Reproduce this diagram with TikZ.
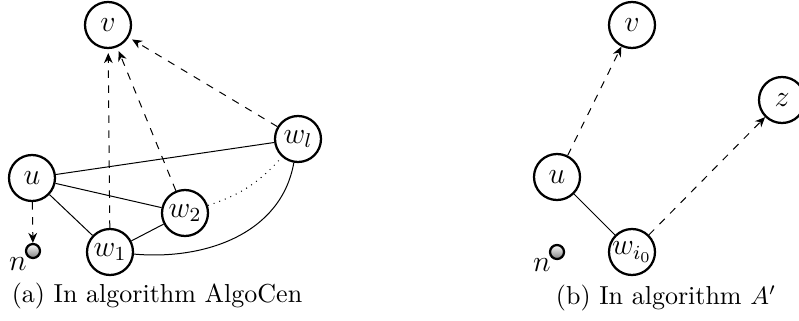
\documentclass[tikz,border=0pt]{standalone}
\usetikzlibrary{arrows.meta}
\begin{document}
\begin{tikzpicture}[x=0.4pt,y=-0.4pt,
  vtx/.style={circle,draw,line width=0.9pt,minimum size=18.4pt,inner sep=0pt,fill=white,font=\large},
  ball/.style={circle,draw,line width=0.9pt,minimum size=5.6pt,inner sep=0pt,top color=white,bottom color=gray},
  nlab/.style={anchor=north east,inner sep=0pt,font=\large},
  captext/.style={font=\fontsize{10.4}{12}\selectfont},
  darr/.style={dashed,-{Stealth[length=4pt,width=3.5pt]}},
  edge/.style={line width=0.4pt}]
\useasboundingbox (0,0) rectangle (799,320);
% (a)
\node[vtx] (v) at (108,25) {$v$};
\node[vtx] (wl) at (298,139) {$w_l$};
\node[vtx] (u) at (32,178) {$u$};
\node[vtx] (w2) at (185,213) {$w_2$};
\node[vtx] (w1) at (110,252) {$w_1$};
\node[ball] (n) at (33,251) {};
\node[nlab] (nl) at (n.south west) {$n$};
\draw[edge] (u) -- (wl);
\draw[edge] (u) -- (w2);
\draw[edge] (u) -- (w1);
\draw[edge] (w1) -- (w2);
\draw[edge] (w1) to[out=-5,in=-100] (wl);
\draw[edge,dotted] (w2) to[bend right=15] (wl);
\draw[darr,shorten >=1.6pt] (w1) -- (v);
\draw[darr,shorten >=1.6pt] (w2) -- (v);
\draw[darr,shorten >=1.6pt] (wl) -- (v);
\draw[darr] (u) -- (n);
\node[captext] (capa) at (157,296) {(a) In algorithm AlgoCen};
% (b)
\node[vtx] (v2) at (632,25) {$v$};
\node[vtx] (z) at (782,100) {$z$};
\node[vtx] (u2) at (557,177) {$u$};
\node[vtx] (wi) at (632,252) {$w_{i_0}$};
\node[ball] (n2) at (557,252) {};
\node[nlab] (nl2) at (n2.south west) {$n$};
\draw[edge] (u2) -- (wi);
\draw[darr] (u2) -- (v2);
\draw[darr] (wi) -- (z);
\node[captext] (capb) at (666,298) {(b) In algorithm $A'$};
\end{tikzpicture}
\end{document}
